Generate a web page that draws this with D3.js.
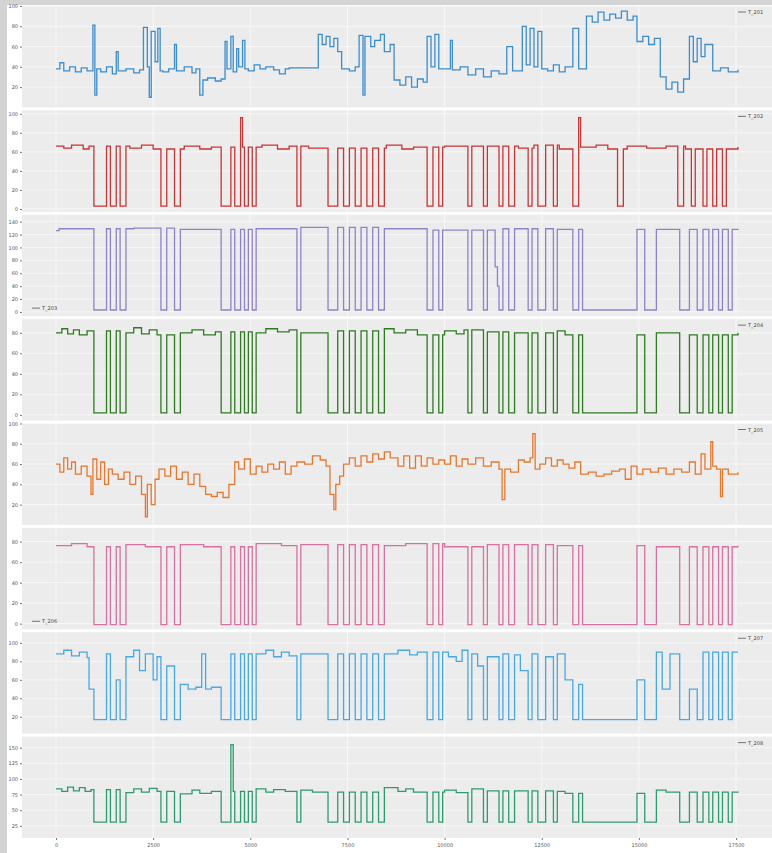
<!DOCTYPE html>
<html><head><meta charset="utf-8">
<script src="https://cdn.jsdelivr.net/npm/d3@7"></script>
<style>body{margin:0;background:#fff;overflow:hidden}</style>
</head><body><script>
const width = 772, height = 853;

const xTicks = [0, 2500, 5000, 7500, 10000, 12500, 15000, 17500];
const names = ["T_201", "T_202", "T_203", "T_204", "T_205", "T_206", "T_207", "T_208"];
const colors = ["#3d8ccb", "#c93535", "#8f83c8", "#2e7b22", "#e8772e", "#d8719f", "#48a8e4", "#2c9c6f"];
const yDomains = [[0, 100], [-2.9, 103.6], [-6.5, 150.7], [-5.5, 93.4], [0, 100], [-5.5, 93.4], [1.8, 111.5], [5.5, 167.7]];
const yTicks = [[20, 40, 60, 80, 100], [0, 20, 40, 60, 80, 100], [0, 20, 40, 60, 80, 100, 120, 140], [0, 20, 40, 60, 80],
  [20, 40, 60, 80, 100], [0, 20, 40, 60, 80], [20, 40, 60, 80, 100], [25, 50, 75, 100, 125, 150]];
const legendLeft = [false, false, true, false, false, true, false, false];

// machine stops seen in most channels (start, end)
const stops = [[975,1300],[1400,1550],[1650,1800],[2700,2850],[3050,3200],[4250,4500],[4600,4750],[4850,4950],
  [5050,5150],[6200,6300],[7000,7250],[7400,7550],[7700,7850],[8000,8150],[8300,8450],[9550,9700],[9850,9950],
  [10600,10700],[11000,11100],[11400,11500],[11650,11800],[12150,12250],[12400,12600],[12800,12900],[13300,13450],
  [13550,14950],[15150,15450],[16050,16300],[16500,16650],[16800,16900],[17050,17150],[17300,17400]];
const stopsRed = [[975,1300],[1400,1550],[1650,1800],[2700,2850],[3050,3200],[4250,4500],[4600,4750],[4850,4950],
  [5050,5150],[6200,6300],[7000,7250],[7400,7550],[7700,7850],[8000,8150],[8300,8450],[9550,9700],[9850,9950],
  [10600,10700],[11000,11100],[11400,11500],[11650,11800],[12150,12250],[12400,12600],[12800,12900],[13300,13450],
  [14450,14600],[16000,16150],[16350,16450],[16650,16750],[16900,17000],[17150,17250]];

// running levels [x, value]
const s1 = [[0,38],[100,44],[200,36],[350,40],[500,35],[650,39],[800,36],[950,81],[1000,12],[1050,38],[1150,35],
  [1300,40],[1450,33],[1550,55],[1600,36],[1800,38],[2000,34],[2150,37],[2250,79],[2350,40],[2400,10],[2450,75],
  [2550,45],[2620,78],[2680,36],[2750,35],[2900,38],[3050,62],[3100,36],[3300,40],[3500,34],[3600,38],[3700,12],
  [3780,27],[3900,29],[4100,26],[4250,28],[4350,65],[4400,38],[4500,70],[4560,35],[4650,58],[4700,40],[4800,66],
  [4860,38],[4950,36],[5100,42],[5250,38],[5400,40],[5600,37],[5750,33],[5900,38],[6000,39],[6750,72],[6850,62],
  [6950,70],[7050,60],[7150,68],[7250,55],[7350,38],[7550,36],[7700,40],[7800,71],[7900,12],[7950,70],[8100,60],
  [8200,66],[8350,72],[8450,55],[8600,62],[8700,27],[8850,22],[9000,30],[9150,20],[9300,28],[9450,25],[9550,70],
  [9650,40],[9750,72],[9850,38],[9950,38],[10150,66],[10200,37],[10400,40],[10600,32],[10800,38],[11000,30],
  [11200,36],[11400,33],[11600,60],[11750,36],[12000,80],[12100,42],[12200,78],[12300,40],[12400,75],[12500,38],
  [12650,36],[12800,42],[12950,35],[13100,40],[13300,78],[13450,38],[13650,90],[13800,84],[13950,94],[14100,86],
  [14250,92],[14400,88],[14550,95],[14700,86],[14850,90],[14950,65],[15100,70],[15250,62],[15400,68],[15550,30],
  [15700,18],[15850,25],[16000,15],[16150,28],[16300,70],[16400,45],[16500,68],[16600,50],[16700,62],[16900,36],
  [17100,39],[17300,35],[17550,37]];
const s2 = [[0,66],[200,64],[400,67],[700,63],[850,66],[1900,64],[2200,67],[2500,63],[3300,66],[3700,63],[4000,65],
  [4750,96],[4800,65],[5300,67],[5700,63],[6000,66],[6500,64],[8500,67],[8900,63],[9200,65],[10000,66],[11900,64],
  [12300,67],[12950,63],[13450,96],[13500,65],[13900,67],[14200,63],[14700,66],[15200,64],[15700,66],[16200,63],
  [17550,65]];
const s3 = [[0,126],[80,129],[2000,130],[3200,128],[5150,129],[6300,131],[8450,129],[9700,127],[11300,70],
  [11360,40],[11400,129],[12900,128],[17550,129]];
const s4 = [[0,80],[150,84],[300,79],[450,83],[600,78],[800,82],[1800,80],[2000,85],[2200,79],[2400,83],[2600,78],
  [3200,80],[3500,83],[3800,78],[4100,81],[5150,80],[5400,84],[5700,81],[6000,83],[6300,80],[7250,82],[8450,84],
  [8700,80],[9000,83],[9300,78],[10000,82],[10300,79],[10500,83],[11100,81],[11800,80],[12900,82],[13100,78],
  [15450,80],[16300,78],[17550,80]];
const s5 = [[0,60],[100,52],[200,66],[300,55],[400,62],[500,50],[650,58],[800,48],[900,30],[950,65],[1050,45],
  [1150,62],[1250,40],[1350,55],[1450,50],[1600,45],[1750,52],[1900,40],[2050,48],[2200,30],[2300,8],[2350,40],
  [2450,20],[2550,45],[2650,55],[2800,48],[2950,58],[3100,45],[3250,52],[3400,40],[3550,50],[3700,38],[3850,30],
  [4000,28],[4150,32],[4300,27],[4450,40],[4600,62],[4700,55],[4850,65],[5000,50],[5150,58],[5300,52],[5450,60],
  [5600,55],[5750,62],[5900,50],[6050,58],[6200,62],[6400,60],[6600,68],[6800,64],[6950,58],[7050,30],[7150,15],
  [7200,40],[7300,48],[7400,60],[7550,66],[7700,58],[7850,68],[8000,62],[8150,70],[8300,65],[8450,72],[8600,66],
  [8800,58],[8950,68],[9100,56],[9250,68],[9400,58],[9550,66],[9700,60],[9850,64],[10000,60],[10150,68],[10300,58],
  [10450,65],[10600,60],[10800,66],[11000,58],[11200,62],[11400,55],[11480,25],[11550,55],[11700,52],[11900,64],
  [12050,62],[12200,66],[12270,90],[12330,55],[12450,60],[12600,66],[12750,58],[12900,64],[13050,60],[13200,56],
  [13350,62],[13500,50],[13700,52],[13900,48],[14100,50],[14300,53],[14500,55],[14650,45],[14800,58],[14950,50],
  [15100,55],[15300,52],[15500,56],[15700,50],[15900,55],[16100,52],[16300,62],[16450,50],[16600,70],[16700,55],
  [16850,82],[16900,58],[17000,55],[17100,28],[17150,55],[17300,50],[17550,52]];
const s6 = [[0,76],[400,78],[800,75],[1800,77],[2300,75],[3200,77],[3800,75],[5150,78],[5800,76],[6300,77],
  [8450,76],[9000,78],[10000,75],[11000,77],[12900,76],[15450,75],[17550,76]];
const s7 = [[0,88],[200,92],[400,86],[600,90],[800,84],[850,50],[1300,88],[1550,60],[1800,85],[2000,92],[2150,70],
  [2300,88],[2500,60],[2600,85],[2850,75],[3200,55],[3400,50],[3600,52],[3750,88],[3850,50],[4000,52],[4500,88],
  [5150,88],[5400,92],[5600,85],[5800,90],[6000,86],[6300,88],[8450,88],[8800,92],[9100,87],[9300,90],[9950,90],
  [10100,85],[10300,80],[10450,92],[10700,88],[10850,75],[11100,85],[11500,88],[11800,87],[11950,70],[12250,88],
  [12600,85],[12900,88],[13100,60],[13450,55],[14950,60],[15450,90],[15600,50],[15800,88],[16300,50],[16650,90],
  [17550,90]];
const s8 = [[0,84],[150,80],[300,87],[450,81],[600,86],[750,80],[900,83],[1800,78],[2000,84],[2200,79],[2400,85],
  [2600,80],[3200,76],[3500,82],[3700,77],[4000,80],[4500,155],[4560,80],[5150,84],[5400,79],[5600,83],[5900,80],
  [6300,82],[6600,79],[8450,86],[8800,80],[9000,84],[9200,79],[10000,82],[10300,78],[10700,84],[11100,81],
  [12900,80],[13100,77],[15450,82],[15700,79],[17550,80]];
const offVals = [null, 3, 3, 2, null, -1, 17, 31];
const stopSets = [null, stopsRed, stops, stops, null, stops, stops, stops];
const series = [s1, s2, s3, s4, s5, s6, s7, s8];

const svg = d3.select("body").append("svg").attr("width", width).attr("height", height);
svg.append("rect").attr("width", width).attr("height", height).attr("fill", "#fff");
svg.append("rect").attr("width", 7).attr("height", height).attr("fill", "#d4d4d4");
svg.append("rect").attr("width", width).attr("height", 5).attr("fill", "#d4d4d4");

const left = 22, right = 772, pTop = 6, pBottom = 838, gap = 3;
const ph = (pBottom - pTop - gap * 7) / 8;

const x = d3.scaleLinear().domain([-875, 18425]).range([left, right]);

// merge level breakpoints with stop windows
function build(s, off, st) {
  if (!st) return s;
  const level = (t) => { let v = s[0][1]; for (const p of s) if (p[0] <= t) v = p[1]; return v; };
  const breaks = new Set(s.map(p => p[0]));
  st.forEach(w => { breaks.add(w[0]); breaks.add(w[1]); });
  return [...breaks].sort((a, b) => a - b).map(t => {
    const isOff = st.some(w => t >= w[0] && t < w[1]);
    return [t, isOff ? off : level(t)];
  });
}

series.forEach((s, i) => {
  const y0 = pTop + i * (ph + gap);
  const y = d3.scaleLinear().domain(yDomains[i]).range([y0 + ph, y0]);
  const g = svg.append("g");
  g.append("rect").attr("x", left).attr("y", y0).attr("width", right - left).attr("height", ph).attr("fill", "#ececec");
  g.selectAll(".hg").data(yTicks[i].filter(d => y(d) >= y0)).join("line")
    .attr("x1", left).attr("x2", right).attr("y1", d => y(d)).attr("y2", d => y(d))
    .attr("stroke", "#fafafa").attr("stroke-width", 0.8);
  g.selectAll(".vg").data(xTicks).join("line")
    .attr("x1", d => x(d)).attr("x2", d => x(d)).attr("y1", y0).attr("y2", y0 + ph)
    .attr("stroke", "#fafafa").attr("stroke-width", 0.8);
  g.append("g").attr("transform", `translate(${left},0)`)
    .call(d3.axisLeft(y).tickValues(yTicks[i].filter(d => y(d) >= y0 - 1)).tickFormat(d3.format("d")).tickSize(2).tickPadding(2))
    .call(a => a.select(".domain").remove())
    .call(a => a.selectAll("text").attr("font-size", 5).attr("fill", "#555").attr("font-family", "DejaVu Sans"))
    .call(a => a.selectAll("line").attr("stroke", "#777"));
  const line = d3.line().x(d => x(d[0])).y(d => y(d[1])).curve(d3.curveStepAfter);
  g.append("path").datum(build(s, offVals[i], stopSets[i])).attr("d", line)
    .attr("fill", "none").attr("stroke", colors[i]).attr("stroke-width", 1.3);
  const lx = legendLeft[i] ? left + 10 : right - 34;
  const ly = legendLeft[i] ? y0 + ph - 8 : y0 + 6;
  g.append("line").attr("x1", lx).attr("x2", lx + 8).attr("y1", ly).attr("y2", ly).attr("stroke", "#555").attr("stroke-width", 0.8);
  g.append("text").attr("x", lx + 10).attr("y", ly + 2).text(names[i])
    .attr("font-size", 5).attr("fill", "#444").attr("font-family", "DejaVu Sans");
});

svg.append("g").attr("transform", `translate(0,${pBottom})`)
  .call(d3.axisBottom(x).tickValues(xTicks).tickFormat(d3.format("d")).tickSize(2).tickPadding(3))
  .call(a => a.select(".domain").remove())
  .call(a => a.selectAll("text").attr("font-size", 5).attr("fill", "#555").attr("font-family", "DejaVu Sans"))
  .call(a => a.selectAll("line").attr("stroke", "#777"));
</script></body></html>
